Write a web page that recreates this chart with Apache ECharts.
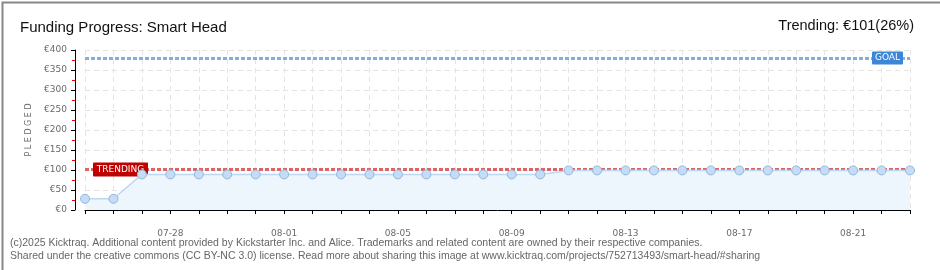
<!DOCTYPE html>
<html><head><meta charset="utf-8">
<script src="https://cdn.jsdelivr.net/npm/echarts@6/dist/echarts.min.js"></script>
<style>html,body{margin:0;padding:0;background:#fff}#c{width:940px;height:270px}</style>
</head><body><div id="c"></div>
<script>
const categories = ["07-25","07-26","07-27","07-28","07-29","07-30","07-31","08-01","08-02","08-03","08-04","08-05","08-06","08-07","08-08","08-09","08-10","08-11","08-12","08-13","08-14","08-15","08-16","08-17","08-18","08-19","08-20","08-21","08-22","08-23"];
const pledged = [28,28,89,89,89,89,89,89,89,89,89,89,89,89,89,89,89,99,99,99,99,99,99,99,99,99,99,99,99,99];
const goal = 380;
const trending = 101;
const titleText = "Funding Progress: Smart Head";
const trendText = "Trending: €101(26%)";
const footer1 = "(c)2025 Kicktraq. Additional content provided by Kickstarter Inc. and Alice. Trademarks and related content are owned by their respective companies.";
const footer2 = "Shared under the creative commons (CC BY-NC 3.0) license. Read more about sharing this image at www.kicktraq.com/projects/752713493/smart-head/#sharing";

const chart = echarts.init(document.getElementById('c'), null, {renderer:'canvas'});
const tickFont = {fontFamily:'DejaVu Sans', fontSize:9, color:'#6a6a6a'};
const border = {type:'rect',left:0,top:0,shape:{width:939,height:269},style:{fill:'none',stroke:'#888',lineWidth:2},silent:true};
chart.setOption({
  animation:false,
  grid:{left:85,right:30,top:50,bottom:60,containLabel:false},
  title:[
    {text:titleText,left:15,top:15,textStyle:{fontFamily:'Liberation Sans',fontWeight:'normal',fontSize:15,color:'#111'}},
    {text:trendText,right:21,top:13,textStyle:{fontFamily:'Liberation Sans',fontWeight:'normal',fontSize:14.5,color:'#111'}}
  ],
  xAxis:{type:'category',data:categories,boundaryGap:false,offset:10,
    axisLine:{lineStyle:{color:'#000',width:1}},
    axisTick:{show:true,interval:0,length:4,lineStyle:{color:'#000'}},
    axisLabel:Object.assign({interval:(i)=>i%4===3,margin:9},tickFont),
    splitLine:{show:true,interval:0,lineStyle:{color:'#e4e4e4',type:[5,4]}}},
  yAxis:{type:'value',min:0,max:400,interval:50,offset:10,
    name:'P L E D G E D',nameLocation:'middle',nameGap:40,nameRotate:90,
    nameTextStyle:{fontFamily:'DejaVu Sans',fontSize:8,color:'#6a6a6a'},
    axisLine:{show:true,lineStyle:{color:'#000'}},
    axisTick:{show:true,length:4,lineStyle:{color:'#000'}},
    minorTick:{show:true,splitNumber:2,length:3,lineStyle:{color:'#e00'}},
    axisLabel:Object.assign({formatter:v=>'€'+v,margin:8},tickFont),
    splitLine:{show:true,lineStyle:{color:'#e4e4e4',type:[5,4]}}},
  series:[
  {
    type:'line',data:[],silent:true,z:1,
    markLine:{silent:true,symbol:'none',label:{show:false},z:1,
      data:[
        {yAxis:goal,lineStyle:{color:'#86acdc',width:3,type:[4,2]}},
        {yAxis:trending,lineStyle:{color:'#dc6464',width:3,type:[4,2]}}
      ]}
  },
  {
    type:'line',data:pledged,symbol:'circle',symbolSize:9,
    lineStyle:{color:'#bcd8f3',width:1.5},
    itemStyle:{color:'#c3ddf8',borderColor:'#98b4d6',borderWidth:1},
    areaStyle:{color:'#edf5fd',opacity:1},
    z:6
  }],
  graphic:[border]
});

const pT = chart.convertToPixel({yAxisIndex:0},trending);
const pG = chart.convertToPixel({yAxisIndex:0},goal);
chart.setOption({graphic:[
  border,
  {type:'rect',z:4,shape:{x:93,y:pT-7,width:55,height:14,r:1},style:{fill:'#c00000'}},
  {type:'text',z:4,style:{x:120.5,y:pT,text:'TRENDING',fill:'#fff',font:'9px DejaVu Sans',textAlign:'center',textVerticalAlign:'middle'}},
  {type:'rect',z:4,shape:{x:872,y:pG-6.5,width:31,height:13,r:1},style:{fill:'#3b86d6'}},
  {type:'text',z:4,style:{x:887.5,y:pG,text:'GOAL',fill:'#fff',font:'9px DejaVu Sans',textAlign:'center',textVerticalAlign:'middle'}},
  {type:'text',left:10,top:238,style:{text:footer1,fill:'#666',font:'10.5px Liberation Sans'}},
  {type:'text',left:10,top:251,style:{text:footer2,fill:'#666',font:'10.5px Liberation Sans'}}
]});
</script></body></html>
